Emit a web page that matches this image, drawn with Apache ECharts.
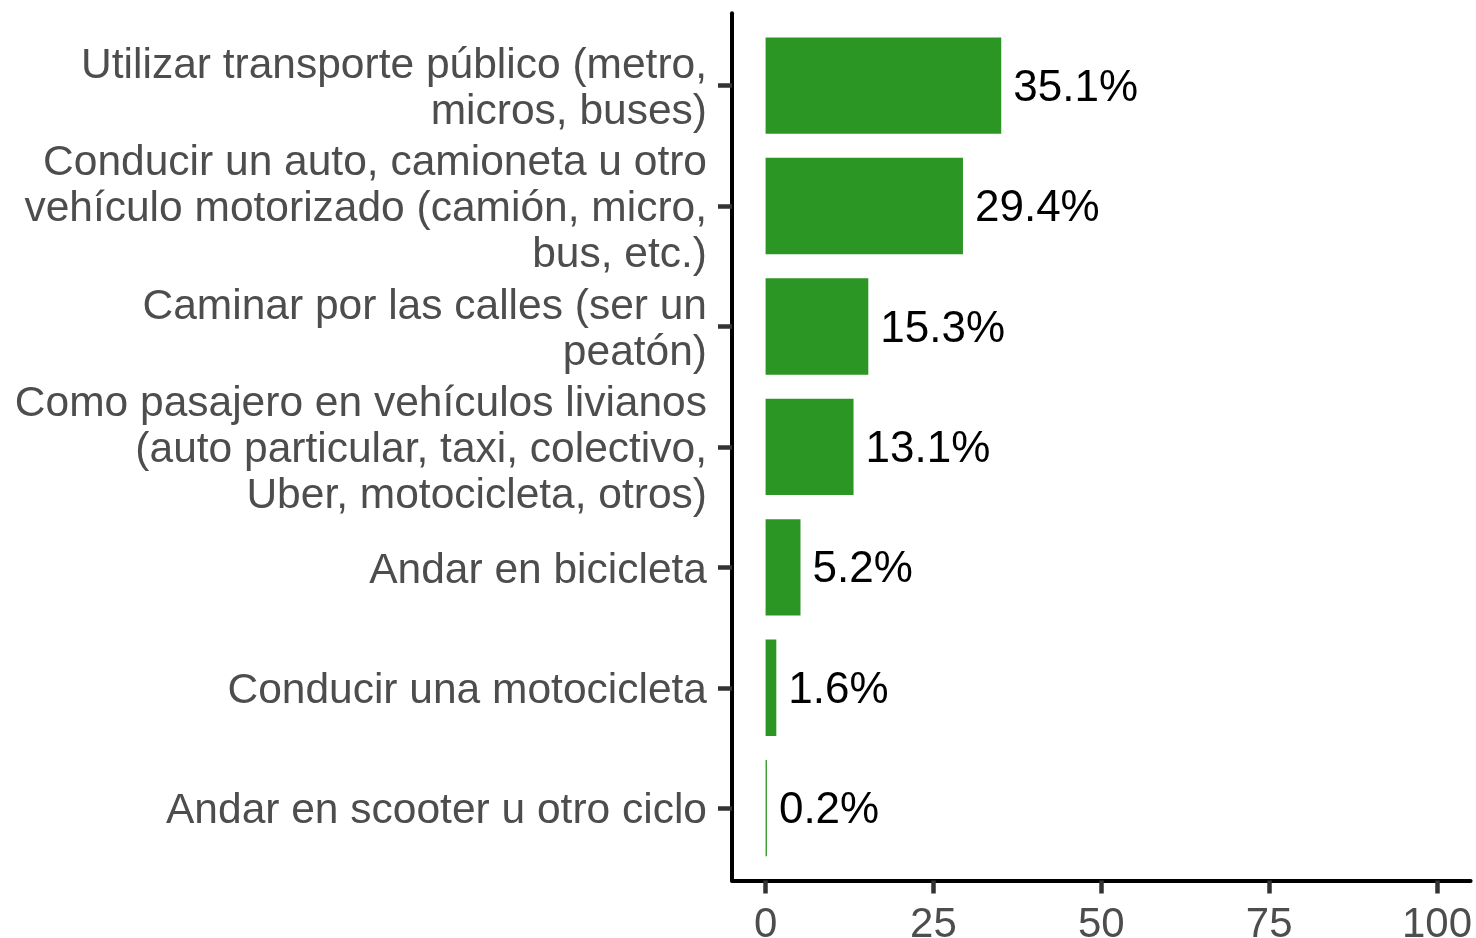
<!DOCTYPE html>
<html>
<head>
<meta charset="utf-8">
<style>
html, body { margin: 0; padding: 0; background: #fff; }
#chart { width: 1476px; height: 938px; }
</style>
<script src="https://cdn.jsdelivr.net/npm/echarts@6/dist/echarts.min.js"></script>
</head>
<body>
<div id="chart"></div>
<script>
// data
var categories = [
  'Utilizar transporte público (metro,\nmicros, buses)',
  'Conducir un auto, camioneta u otro\nvehículo motorizado (camión, micro,\nbus, etc.)',
  'Caminar por las calles (ser un\npeatón)',
  'Como pasajero en vehículos livianos\n(auto particular, taxi, colectivo,\nUber, motocicleta, otros)',
  'Andar en bicicleta',
  'Conducir una motocicleta',
  'Andar en scooter u otro ciclo'
];
var percents = [35.1, 29.4, 15.3, 13.1, 5.2, 1.6, 0.2];
var xTicks = [0, 25, 50, 75, 100];

var font = 'Liberation Sans, Arial, sans-serif';
var myChart = echarts.init(document.getElementById('chart'));

var option = {
  animation: false,
  grid: [
    // frame: axis lines + x ticks
    { left: 732, right: 5.4, top: 13.3, bottom: 57.5, outerBoundsMode: 'none' },
    // bars: inner band area (ggplot 0.6 discrete expansion)
    { left: 732, right: 5.4, top: 25.4, bottom: 69.6, outerBoundsMode: 'none' }
  ],
  xAxis: [
    {
      gridIndex: 0, type: 'value', min: -5, max: 105,
      axisLine: { show: true, onZero: false, lineStyle: { color: '#000', width: 4 } },
      axisTick: { show: true, length: 13, customValues: xTicks, lineStyle: { color: '#333', width: 4.5 } },
      axisLabel: { show: true, customValues: xTicks, margin: 24, color: '#4d4d4d', fontSize: 42, fontFamily: font },
      splitLine: { show: false }
    },
    {
      gridIndex: 1, type: 'value', min: -5, max: 105, show: false
    }
  ],
  yAxis: [
    {
      gridIndex: 0, type: 'value', min: 0, max: 1,
      axisLine: { show: true, onZero: false, lineStyle: { color: '#000', width: 4 } },
      axisTick: { show: false }, axisLabel: { show: false }, splitLine: { show: false }
    },
    {
      gridIndex: 1, type: 'category', data: categories, inverse: true,
      axisLine: { show: false, onZero: false },
      axisTick: { show: true, interval: 0, alignWithLabel: true, length: 14, lineStyle: { color: '#333', width: 4.5 } },
      axisLabel: {
        interval: 0, hideOverlap: false, margin: 25, color: '#4d4d4d', fontSize: 42.5, lineHeight: 46,
        fontFamily: font, align: 'right',
        // small empty line on top nudges the text block down a few px
        formatter: function (v) { return '{p| }\n' + v; },
        rich: { p: { fontSize: 1, lineHeight: 7 } }
      },
      splitLine: { show: false }
    }
  ],
  series: [{
    type: 'bar',
    xAxisIndex: 1, yAxisIndex: 1,
    data: percents,
    barWidth: '80%',
    itemStyle: { color: '#2c9624' },
    label: {
      show: true, position: 'right', distance: 12, offset: [0, 3],
      color: '#000', fontSize: 44, fontFamily: font,
      formatter: function (p) { return p.value.toFixed(1) + '%'; }
    }
  }]
};
myChart.setOption(option);
</script>
</body>
</html>
